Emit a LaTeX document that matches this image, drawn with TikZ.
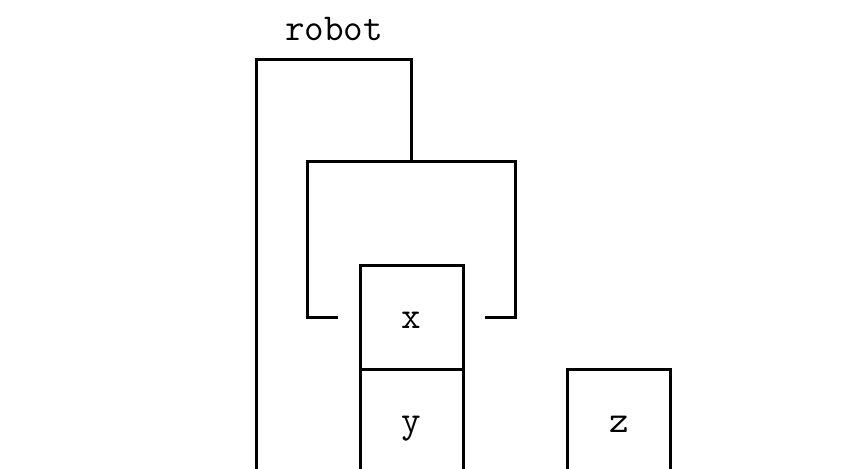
\documentclass[tikz,border=0pt]{standalone}
\usepackage{tikz}
\usetikzlibrary{positioning}

\tikzset{
    cell/.style={draw, line width=1.5pt, outer sep=0pt, minimum width=51.5pt, minimum height=52pt, inner sep=0pt, text height=10.3pt, text depth=0pt, font=\fontsize{19}{21}\selectfont\ttfamily},
    wire/.style={line width=1.5pt}
}

\begin{document}
\begin{tikzpicture}[x=0.5pt, y=-0.5pt]
                        \useasboundingbox (0, 0) rectangle (866, 469);
                        \clip (0, 0) rectangle (866, 469);

                        \node (robot) at (334, 29) {\fontsize{19}{21}\selectfont\ttfamily robot};

                        \node[cell] (x) at (411.5, 318) {x};
                        \node[cell, below=0pt of x] (y) {y};
                        \node[cell, anchor=north] (z) at (619, 370) {z};

                        \coordinate (ol) at (256, 60);
                        \coordinate (or) at (411, 60);
                        \coordinate (il) at (307, 162);
                        \coordinate (ir) at (515, 162);

                        \draw[wire]
                        (256, 469) -- (ol) -- (or) -- (411, 162)

                        (338, 318) -- (307, 318) -- (il) -- (ir) -- (515, 318) -- (485, 318);
                    \end{tikzpicture}
\end{document}
